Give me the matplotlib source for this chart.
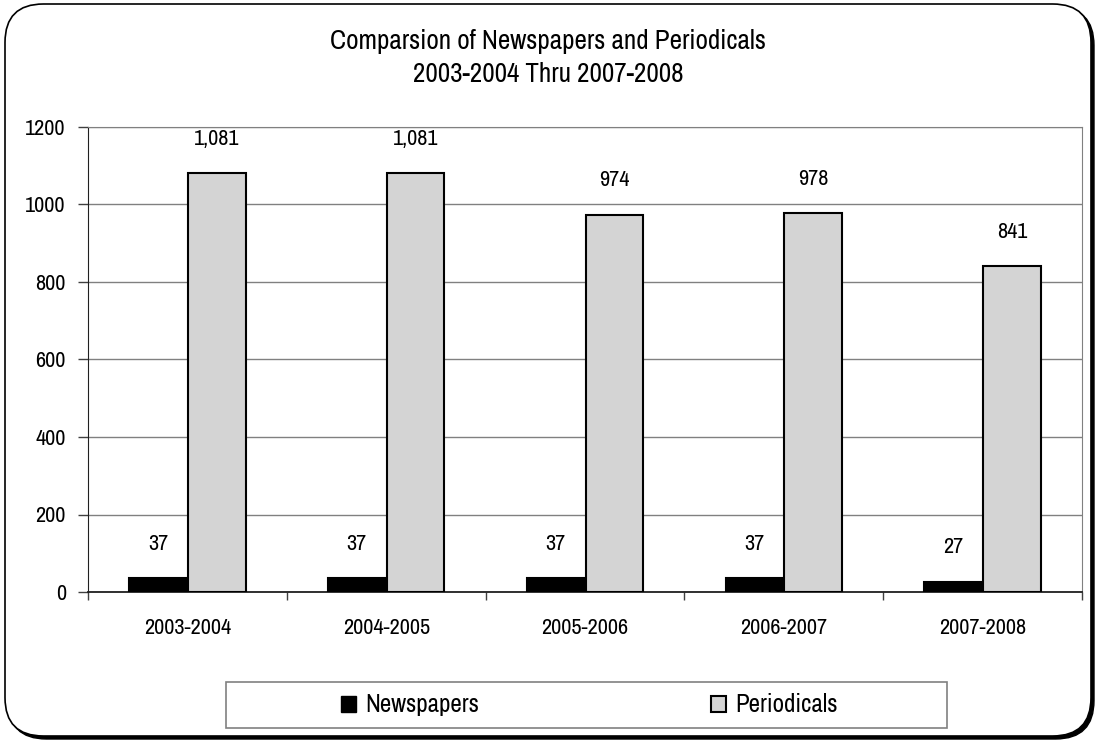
import matplotlib
matplotlib.use('Agg')
import matplotlib.pyplot as plt
from matplotlib.patches import FancyBboxPatch, Rectangle, Patch
import numpy as np

plt.rcParams['font.family'] = ['Archivo Narrow', 'DejaVu Sans']

years = ['2003-2004', '2004-2005', '2005-2006', '2006-2007', '2007-2008']
newspapers = [37, 37, 37, 37, 27]
periodicals = [1081, 1081, 974, 978, 841]

W, H = 1097, 740
fig = plt.figure(figsize=(W / 100, H / 100), dpi=100)

# rounded chart border with a drop shadow on the lower right
shadow = FancyBboxPatch((8 / W, 1 / H), 1086 / W, 732 / H,
                        boxstyle='round,pad=0,rounding_size=0.035',
                        transform=fig.transFigure, facecolor='black',
                        edgecolor='black', lw=1, zorder=0,
                        mutation_aspect=W / H)
frame = FancyBboxPatch((5 / W, 4 / H), 1086 / W, 732 / H,
                       boxstyle='round,pad=0,rounding_size=0.035',
                       transform=fig.transFigure, facecolor='white',
                       edgecolor='black', lw=1.2, zorder=1,
                       mutation_aspect=W / H)
fig.patches.extend([shadow, frame])

ax = fig.add_axes([88 / W, 148 / H, 994 / W, 465 / H])
ax.set_zorder(2)
ax.patch.set_alpha(0)

x = np.arange(len(years))
bw = 0.29
off = 0.148
ax.bar(x - off, newspapers, bw, color='black', edgecolor='black', lw=1.5, zorder=3)
ax.bar(x + off, periodicals, bw, color='#d4d4d4', edgecolor='black', lw=1.5, zorder=3)

ax.set_xlim(-0.5, len(years) - 0.5)
ax.set_ylim(0, 1200)
ax.set_yticks(range(0, 1201, 200))
ax.yaxis.grid(True, color='#808080', lw=1)
ax.set_axisbelow(True)

fs = 16
ax.set_xticks(x)
ax.set_xticklabels(years, fontsize=fs)
ax.set_xticks(np.arange(-0.5, len(years)), minor=True)
ax.tick_params(axis='x', which='major', length=0, pad=19)
ax.tick_params(axis='x', which='minor', length=6, width=1, color='#404040', direction='out')
ax.tick_params(axis='y', length=7, width=1, color='#404040', labelsize=fs, pad=9)

for s in ['top', 'right']:
    ax.spines[s].set_color('#808080')
ax.spines['left'].set_color('#202020')
ax.spines['bottom'].set_color('#202020')
ax.spines['bottom'].set_linewidth(1.3)

# value labels sit a fixed distance above each bar
lift = 88
for xi, v in zip(x - off, newspapers):
    ax.text(xi, v + lift, f'{v:,}', ha='center', va='center', fontsize=16)
for xi, v in zip(x + off, periodicals):
    ax.text(xi, v + lift, f'{v:,}', ha='center', va='center', fontsize=16)

fig.text(0.5, 1 - 42 / H, 'Comparsion of Newspapers and Periodicals',
         ha='center', va='center', fontsize=19.5)
fig.text(0.5, 1 - 74 / H, '2003-2004 Thru 2007-2008',
         ha='center', va='center', fontsize=19.5)

# legend box
fig.patches.append(Rectangle((226 / W, 12 / H), 721 / W, 46 / H,
                             transform=fig.transFigure, facecolor='white',
                             edgecolor='#808080', lw=1.2, zorder=2))
handles = [Patch(facecolor='black', edgecolor='black'),
           Patch(facecolor='#d4d4d4', edgecolor='black', lw=1.5)]
leg = fig.legend(handles, ['Newspapers', 'Periodicals'], loc='center',
                 bbox_to_anchor=(589.5 / W, 35 / H), ncol=2, frameon=False,
                 fontsize=18, handlelength=0.6, handleheight=0.6,
                 handletextpad=0.36, columnspacing=9.3)
leg.set_zorder(3)

fig.savefig('out.png', dpi=100)
